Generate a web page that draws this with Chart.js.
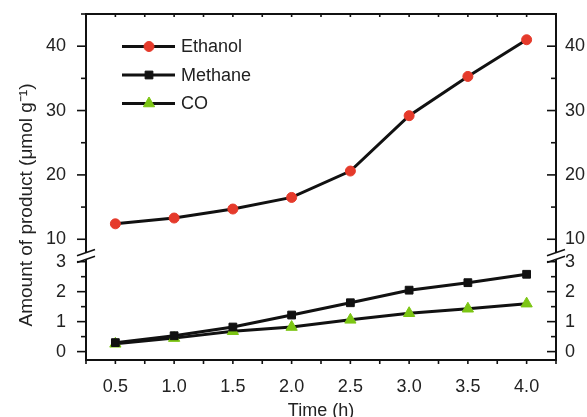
<!DOCTYPE html>
<html><head><meta charset="utf-8">
<script src="https://cdn.jsdelivr.net/npm/chart.js@4/dist/chart.umd.min.js"></script>
<style>html,body{margin:0;padding:0;background:#fff;overflow:hidden}canvas{display:block}</style>
</head><body>
<canvas id="c" width="587" height="417"></canvas>
<script>
const times   = [0.5, 1.0, 1.5, 2.0, 2.5, 3.0, 3.5, 4.0];
const ethanol = [12.4, 13.3, 14.7, 16.5, 20.6, 29.2, 35.3, 41.0];
const methane = [0.30, 0.53, 0.82, 1.22, 1.63, 2.05, 2.30, 2.58];
const co      = [0.26, 0.45, 0.68, 0.82, 1.06, 1.28, 1.43, 1.60];
const xTicks      = [0.5, 1.0, 1.5, 2.0, 2.5, 3.0, 3.5, 4.0];
const topTicks    = [10, 20, 30, 40];
const bottomTicks = [0, 1, 2, 3];
const seriesNames = ['Ethanol', 'Methane', 'CO'];
const xTitle = 'Time (h)';
const yTitle = 'Amount of product (\u03bcmol g\u207b\u00b9)';

const FONT = {family: "'Liberation Sans', Arial, sans-serif", size: 18};
const TXT = '#222';
const AX = '#111';
const RED = '#e53a2b', GREEN = '#7cc514';

const pts = arr => times.map((t, i) => ({x: t, y: arr[i]}));
const setTicks = vals => s => { s.ticks = vals.map(v => ({value: v})); };

const yCommon = (pos, stack, weight, min, max, vals, width, gap) => ({
  type: 'linear', position: pos, stack: stack, stackWeight: weight, min: min, max: max,
  afterBuildTicks: setTicks(vals),
  ticks: {font: FONT, color: TXT, padding: 0, display: true, autoSkip: false},
  grid: {display: false, drawTicks: true, tickLength: gap},
  border: {display: true, width: 2, color: AX},
  afterFit: s => { s.width = width; }
});

const decor = {
  id: 'decor',
  afterDraw(chart) {
    const ctx = chart.ctx;
    const {left: L, right: R, top: T, bottom: B} = chart.chartArea;
    const sc = chart.scales;
    ctx.save();
    ctx.strokeStyle = AX;
    ctx.lineWidth = 1.6;
    const line = (x1, y1, x2, y2) => { ctx.beginPath(); ctx.moveTo(x1, y1); ctx.lineTo(x2, y2); ctx.stroke(); };
    const yT = sc.yTop, yB = sc.yBot;
    for (let v = 10; v <= 45; v += 5) {
      const y = yT.getPixelForValue(v);
      const len = (v % 10 === 0) ? 9 : 5;
      line(L - len, y, L, y);
      line(R - len, y, R, y);
    }
    for (let v = 0; v <= 3; v += 0.5) {
      const y = yB.getPixelForValue(v);
      const len = (v % 1 === 0) ? 9 : 5;
      line(L - len, y, L, y);
      line(R - len, y, R, y);
    }
    const xs = sc.x;
    for (let v = 0.25; v <= 4.2501; v += 0.25) {
      const x = xs.getPixelForValue(v);
      line(x, B, x, B + 4);
      line(x, T, x, T + 3);
    }
    // axis breaks
    const yb = yT.bottom;
    [L, R].forEach(ax => {
      const dx = 9, s = 3.2 / 9;
      ctx.fillStyle = '#fff';
      ctx.beginPath();
      ctx.moveTo(ax - 3, yb - 3.4 + 3 * s);
      ctx.lineTo(ax + 3, yb - 3.4 - 3 * s);
      ctx.lineTo(ax + 3, yb + 3.4 - 3 * s);
      ctx.lineTo(ax - 3, yb + 3.4 + 3 * s);
      ctx.closePath();
      ctx.fill();
      ctx.lineWidth = 1.6;
      line(ax - dx, yb - 3.4 + dx * s, ax + dx, yb - 3.4 - dx * s);
      line(ax - dx, yb + 3.4 + dx * s, ax + dx, yb + 3.4 - dx * s);
    });
    // legend
    const rows = [46.5, 75, 103.5];
    chart.data.datasets.forEach((ds, i) => {
      const y = rows[i];
      ctx.strokeStyle = ds.borderColor;
      ctx.lineWidth = ds.borderWidth;
      line(122, y, 175, y);
      ctx.fillStyle = ds.pointBackgroundColor;
      ctx.strokeStyle = ds.pointBorderColor;
      ctx.lineWidth = 1;
      Chart.helpers.drawPoint(ctx, {pointStyle: ds.pointStyle, radius: ds.pointRadius, rotation: 0, borderWidth: 1}, 149, y);
      ctx.fillStyle = TXT;
      ctx.font = `${FONT.size}px ${FONT.family}`;
      ctx.textAlign = 'left';
      ctx.textBaseline = 'middle';
      ctx.fillText(ds.label, 181, y + 1);
    });
    // y title
    ctx.save();
    ctx.translate(32, 205);
    ctx.rotate(-Math.PI / 2);
    ctx.fillStyle = TXT;
    ctx.font = `19px ${FONT.family}`;
    ctx.textAlign = 'center';
    ctx.textBaseline = 'alphabetic';
    ctx.fillText(yTitle, 0, 0);
    ctx.restore();
    ctx.restore();
  }
};

new Chart(document.getElementById('c'), {
  type: 'line',
  data: {
    datasets: [
      {label: seriesNames[0], data: pts(ethanol), yAxisID: 'yTop', borderColor: '#111', borderWidth: 3,
       pointStyle: 'circle', pointRadius: 5, pointBackgroundColor: RED, pointBorderColor: RED, pointBorderWidth: 1},
      {label: seriesNames[1], data: pts(methane), yAxisID: 'yBot', borderColor: '#111', borderWidth: 3,
       pointStyle: 'rect', pointRadius: 5.5, pointBackgroundColor: '#111', pointBorderColor: '#111', pointBorderWidth: 1},
      {label: seriesNames[2], data: pts(co), yAxisID: 'yBot', borderColor: '#111', borderWidth: 3,
       pointStyle: 'triangle', pointRadius: 6.5, pointBackgroundColor: GREEN, pointBorderColor: GREEN, pointBorderWidth: 1}
    ]
  },
  options: {
    responsive: false,
    animation: false,
    layout: {padding: 0},
    plugins: {legend: {display: false}, tooltip: {enabled: false}},
    scales: {
      x: {
        type: 'linear', position: 'bottom', min: 0.25, max: 4.25,
        afterBuildTicks: setTicks(xTicks),
        ticks: {font: FONT, color: TXT, padding: 0, maxRotation: 0, autoSkip: false, callback: v => Number(v).toFixed(1)},
        grid: {display: false, drawTicks: true, tickLength: 16},
        border: {display: true, width: 2, color: AX},
        title: {display: true, text: xTitle, font: FONT, color: TXT, padding: {top: 0, bottom: -5}},
        afterFit: s => { s.height = 57; }
      },
      x2: {
        type: 'linear', position: 'top', min: 0.25, max: 4.25,
        ticks: {display: false},
        grid: {display: false, drawTicks: false},
        border: {display: true, width: 2, color: AX},
        afterFit: s => { s.height = 14; }
      },
      yBot: yCommon('left', 'left', 104, -0.28, 3.19, bottomTicks, 86, 20),
      yTop: yCommon('left', 'left', 242, 7.4, 45, topTicks, 86, 20),
      yTopR: yCommon('right', 'right', 242, 7.4, 45, topTicks, 31, 9),
      yBotR: yCommon('right', 'right', 104, -0.28, 3.19, bottomTicks, 31, 9)
    }
  },
  plugins: [decor]
});
</script>
</body></html>
